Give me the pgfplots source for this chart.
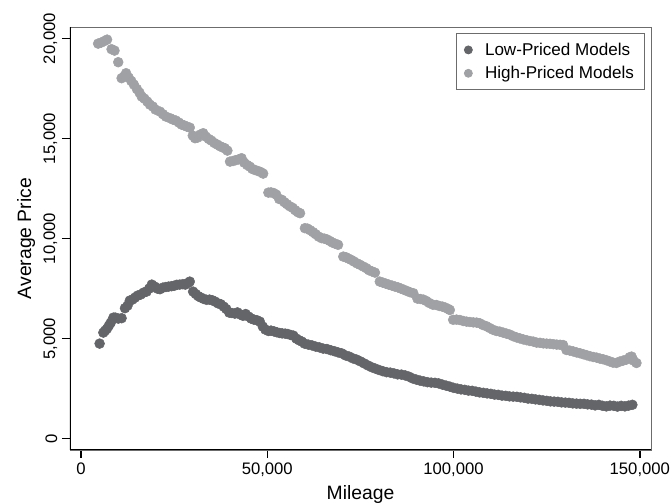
\documentclass[border=0pt]{standalone}
\usepackage{pgfplots}
\pgfplotsset{compat=1.18}
\usepackage{fontspec}
\setmainfont{Liberation Sans}
\definecolor{lowc}{RGB}{100,101,105}
\definecolor{highc}{RGB}{160,161,164}
\begin{document}
\begin{tikzpicture}
\begin{axis}[
  name=ax,
  scale only axis,
  width=435.75pt, height=317.25pt,
  xmin=-2950, xmax=153000,
  ymin=-570, ymax=20580,
  xtick={0,50000,100000,150000},
  xticklabels={0,{50,000},{100,000},{150,000}},
  ytick={0,5000,10000,15000,20000},
  yticklabels={0,{5,000},{10,000},{15,000},{20,000}},
  scaled ticks=false,
  tick align=outside,
  xtick pos=bottom, ytick pos=left,
  major tick length=6pt,
  tick style={black, line width=1.1pt},
  axis line style={gray!85!black, line width=0.7pt},
  ticklabel style={font=\fontsize{12.5}{14}\selectfont},
  yticklabel style={rotate=90, anchor=south},
  xlabel={Mileage},
  ylabel={Average Price},
  label style={font=\fontsize{14.5}{16}\selectfont},
  xlabel style={at={(axis description cs:0.5,0)}, anchor=center, yshift=-33.5pt},
  ylabel style={at={(axis description cs:-0.0757,0.5)}, anchor=center},
  legend style={at={(axis description cs:1,1)}, anchor=north east, xshift=-4.5pt, yshift=-4.5pt,
    draw=gray!85!black, line width=0.6pt, font=\fontsize{12.8}{15}\selectfont,
    row sep=2.75pt, inner xsep=6pt, inner ysep=5pt},
  legend cell align=left,
  legend image code/.code={\path[draw=none, fill=none] (-3pt,0pt) -- (10.5pt,0pt); \draw[#1, mark size=3pt] plot coordinates {(0pt,0pt)};},
]
\addplot[only marks, mark=*, mark size=3.7pt, mark options={draw=lowc, fill=lowc}] table {
5000 4750
6000 5300
6500 5400
7000 5500
7500 5650
8000 5800
8700 6050
9200 6050
10000 6000
10900 6020
11800 6520
12500 6650
13100 6900
13800 6950
14500 7050
15200 7150
16000 7200
16800 7300
17600 7350
18300 7500
19000 7700
19800 7600
20500 7500
21200 7470
22000 7550
22800 7580
23500 7600
24300 7620
25000 7640
25700 7690
26500 7700
27300 7720
28000 7700
28700 7780
29200 7850
30100 7350
30800 7230
31500 7120
32200 7050
33000 6980
33700 6940
34500 6950
35200 6920
36000 6850
36800 6760
37500 6720
38300 6600
39000 6480
39800 6300
40500 6280
41300 6250
42000 6310
42800 6200
43500 6140
44200 6230
45000 6100
45700 6000
46400 5950
47200 5920
48000 5850
48800 5600
49500 5450
50300 5380
51000 5400
51800 5360
52500 5320
53300 5280
54000 5260
54800 5250
55500 5230
56300 5180
57000 5150
57800 5000
58500 4920
59300 4850
60000 4750
61000 4700
62000 4660
63000 4600
64000 4560
65000 4500
66000 4480
67000 4420
68000 4370
69000 4310
70000 4260
71000 4160
72000 4100
73000 4010
74000 3950
75000 3860
76000 3760
77000 3660
78000 3570
79000 3500
80000 3430
81000 3370
82000 3320
83000 3300
84000 3260
85000 3210
86000 3200
87000 3160
88000 3100
89000 3010
90000 2950
91000 2900
92000 2860
93000 2820
94000 2800
95000 2790
96000 2760
97000 2700
98000 2650
99000 2600
100000 2540
101000 2500
102000 2460
103000 2440
104000 2400
105000 2390
106000 2350
107000 2310
108000 2290
109000 2260
110000 2240
111000 2200
112000 2190
113000 2150
114000 2140
115000 2110
116000 2100
117000 2090
118000 2060
119000 2040
120000 2000
121000 1990
122000 1960
123000 1940
124000 1910
125000 1890
126000 1860
127000 1850
128000 1840
129000 1810
130000 1800
131000 1790
132000 1760
133000 1750
134000 1740
135000 1740
136000 1710
137000 1700
138000 1660
139000 1690
140000 1640
141000 1610
142000 1650
143000 1640
144000 1600
145000 1640
146000 1610
147000 1650
148000 1690
};
\addlegendentry{Low-Priced Models}
\addplot[only marks, mark=*, mark size=3.7pt, mark options={draw=highc, fill=highc}] table {
4600 19750
5400 19800
6300 19880
7000 19950
8200 19470
9000 19400
10000 18820
10900 18020
11500 18100
12100 18270
12800 18050
13500 17880
14200 17700
15000 17480
15700 17300
16300 17100
17000 17000
17800 16850
18500 16700
19300 16600
20000 16450
21200 16350
22000 16220
22800 16100
23900 16020
24700 15950
25500 15900
26300 15800
27000 15700
27700 15660
28400 15600
29200 15550
30000 15150
30600 15020
31300 15050
32000 15200
32800 15270
33500 15100
34300 14980
35000 14900
35800 14780
36600 14700
37300 14620
38000 14560
38600 14520
39300 14400
40000 13850
40800 13880
41500 13920
42300 13960
43100 14020
43800 13800
44600 13680
45300 13600
46000 13480
46700 13430
47500 13380
48200 13330
48900 13250
50300 12300
51000 12310
51700 12280
52400 12200
53200 11980
53900 11940
54600 11820
55300 11720
56000 11620
56800 11540
57500 11420
58200 11320
58800 11270
60100 10520
60800 10500
61500 10420
62300 10320
63000 10220
63800 10100
64600 10020
65300 10000
66000 9960
66800 9880
67500 9800
68300 9740
69000 9690
70400 9100
71100 9070
71800 9000
72600 8930
73300 8850
74100 8760
74900 8690
75800 8600
76600 8520
77300 8420
78100 8360
78900 8300
80200 7850
81000 7800
81800 7750
82600 7700
83500 7650
84300 7600
85100 7560
85900 7500
86700 7440
87500 7380
88300 7320
89200 7270
90300 7000
91100 6980
91900 6950
92700 6880
93500 6780
94500 6690
95400 6680
96200 6630
97000 6600
97800 6550
98600 6480
99000 6430
99900 5940
100800 5950
101700 5930
102600 5880
103500 5850
104400 5830
105300 5810
106200 5800
107000 5770
107900 5680
108800 5620
109700 5530
110600 5440
111500 5380
112400 5350
113300 5300
114200 5250
115100 5200
116000 5120
116900 5060
117800 5010
118700 4960
119600 4920
120500 4880
121400 4850
122300 4800
123200 4790
124100 4760
125000 4750
125900 4740
126800 4720
127700 4700
128600 4690
129400 4680
130300 4430
131200 4400
132100 4360
133000 4310
133900 4270
134800 4220
135700 4170
136600 4120
137500 4080
138400 4050
139300 4000
140100 3970
141000 3920
141900 3860
142800 3800
143700 3780
144600 3850
145500 3900
146400 3950
147300 4070
147800 4100
148300 3900
149100 3780
};
\addlegendentry{High-Priced Models}
\draw[black, line width=1.6pt] (rel axis cs:0,1) -- (rel axis cs:0,0) -- (rel axis cs:1,0);
\end{axis}
\pgfresetboundingbox
\path[use as bounding box] ([xshift=-52.5pt,yshift=-39.75pt]ax.south west) rectangle ([xshift=15.75pt,yshift=20.25pt]ax.north east);
\end{tikzpicture}
\end{document}
